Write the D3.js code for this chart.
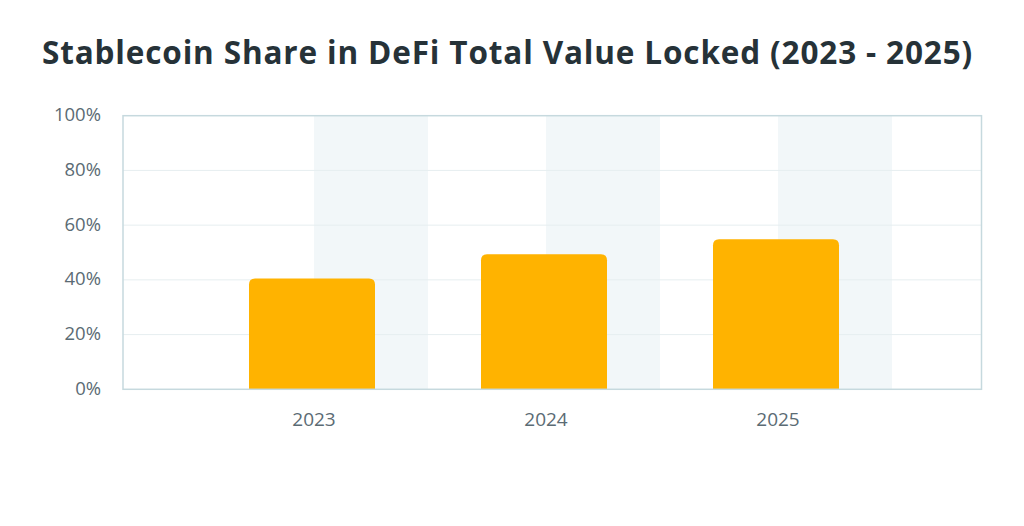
<!DOCTYPE html>
<html>
<head>
<meta charset="utf-8">
<script src="https://cdn.jsdelivr.net/npm/d3@7"></script>
<style>
  html, body { margin: 0; padding: 0; background: #ffffff; }
  text { font-family: "Open Sans", "Noto Sans", sans-serif; }
</style>
</head>
<body>
<div id="chart"></div>
<script>
// Chart data
const years = ["2023", "2024", "2025"];
const stableShare = [40.5, 49.4, 54.8];
const yTicks = [0, 20, 40, 60, 80, 100];
const titleText = "Stablecoin Share in DeFi Total Value Locked (2023 - 2025)";

const width = 1024, height = 526;
const plot = { left: 123, right: 981.5, top: 115.7, bottom: 389.3 };

const svg = d3.select("#chart").append("svg")
    .attr("width", width)
    .attr("height", height);

// Scales
const x = d3.scalePoint()
    .domain(years)
    .range([314, 778]);

const y = d3.scaleLinear()
    .domain([0, 100])
    .range([plot.bottom, plot.top]);

const barWidth = 126;
const barShift = -65;
const bandWidth = 114;

// Shaded column bands
svg.append("g").attr("id", "bands")
    .selectAll("rect")
    .data(years)
    .join("rect")
    .attr("x", d => x(d))
    .attr("y", plot.top)
    .attr("width", bandWidth)
    .attr("height", plot.bottom - plot.top)
    .style("fill", "#f2f7f9");

// Gridlines
svg.append("g").attr("id", "grid")
    .selectAll("line")
    .data(yTicks.filter(t => t > 0 && t < 100))
    .join("line")
    .attr("x1", plot.left)
    .attr("x2", plot.right)
    .attr("y1", d => y(d))
    .attr("y2", d => y(d))
    .style("stroke", "#e6eef0")
    .style("stroke-width", 1);

// Bars with rounded top corners
const r = 6;
function barPath(d, i) {
    const x0 = x(d) + barShift, x1 = x0 + barWidth;
    const y0 = y(stableShare[i]), y1 = y(0);
    return `M${x0},${y1} L${x0},${y0 + r} Q${x0},${y0} ${x0 + r},${y0}` +
           ` L${x1 - r},${y0} Q${x1},${y0} ${x1},${y0 + r} L${x1},${y1} Z`;
}
svg.append("g").attr("id", "bars")
    .selectAll("path")
    .data(years)
    .join("path")
    .attr("d", (d, i) => barPath(d, i))
    .style("fill", "#ffb300");

// Plot frame
svg.append("rect")
    .attr("x", plot.left)
    .attr("y", plot.top)
    .attr("width", plot.right - plot.left)
    .attr("height", plot.bottom - plot.top)
    .style("fill", "none")
    .style("stroke", "#c6d9de")
    .style("stroke-width", 1.5);

// Y axis labels
svg.append("g").attr("id", "y-labels")
    .selectAll("text")
    .data(yTicks)
    .join("text")
    .attr("x", 101)
    .attr("y", d => y(d))
    .attr("dy", "0.3em")
    .attr("text-anchor", "end")
    .style("font-size", "18.5px")
    .style("fill", "#5b6b74")
    .text(d => d + "%");

// X axis labels
svg.append("g").attr("id", "x-labels")
    .selectAll("text")
    .data(years)
    .join("text")
    .attr("x", d => x(d))
    .attr("y", 425.7)
    .attr("text-anchor", "middle")
    .style("font-size", "19px")
    .style("fill", "#5b6b74")
    .text(d => d);

// Title
svg.append("text")
    .attr("x", 507.5)
    .attr("y", 63.5)
    .attr("text-anchor", "middle")
    .style("font-size", "31.5px")
    .style("letter-spacing", "0.85px")
    .style("font-weight", "bold")
    .style("fill", "#263238")
    .text(titleText);
</script>
</body>
</html>
